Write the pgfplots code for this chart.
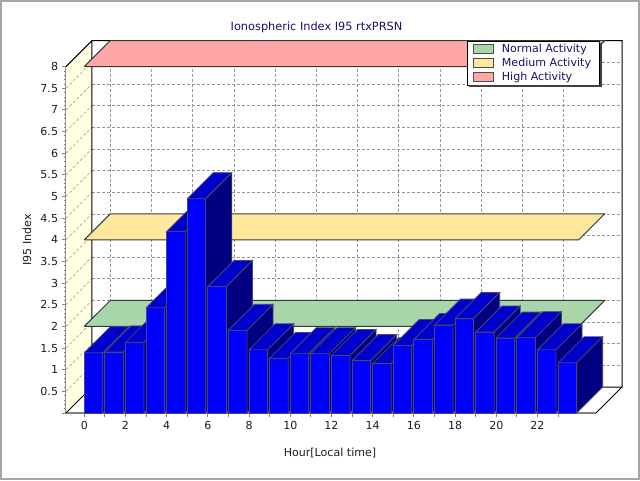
\documentclass[border=0pt]{standalone}
\usepackage{pgfplots}
\pgfplotsset{compat=1.18}
\usepackage{pgfplotstable}
\usepackage{fontspec}
\setmainfont{DejaVu Sans}

\definecolor{barfront}{RGB}{0,0,255}
\definecolor{bartop}{RGB}{0,0,205}
\definecolor{barside}{RGB}{0,0,128}
\definecolor{baredge}{RGB}{70,70,110}
\definecolor{bandgreen}{RGB}{168,214,168}
\definecolor{bandyellow}{RGB}{255,232,158}
\definecolor{bandred}{RGB}{255,166,166}
\definecolor{wallyellow}{RGB}{255,255,226}
\definecolor{gridgray}{RGB}{150,150,150}
\definecolor{axisgray}{RGB}{128,128,128}
\definecolor{titleblue}{RGB}{20,20,100}
\definecolor{bandedge}{RGB}{40,60,60}
\definecolor{textdark}{RGB}{30,30,30}

\pgfplotstableread{
h v
0 1.39
1 1.41
2 1.63
3 2.43
4 4.19
5 4.95
6 2.92
7 1.91
8 1.46
9 1.26
10 1.37
11 1.37
12 1.33
13 1.21
14 1.14
15 1.56
16 1.70
17 2.03
18 2.18
19 1.87
20 1.73
21 1.74
22 1.46
23 1.16
}\bardata

\begin{document}
\begin{tikzpicture}
\fontsize{8.3}{10}\selectfont
\fill[white] (0,0) rectangle (480pt,360pt);
\draw[gray!70, line width=1.5pt] (0.75pt,0.75pt) rectangle (479.25pt,359.25pt);

\begin{axis}[
  at={(49.5pt,50.25pt)}, anchor=south west,
  scale only axis, width=397.5pt, height=259.8pt,
  xmin=-0.888, xmax=24.84, ymin=0, ymax=8,
  clip=false,
  axis on top=false,
  axis lines*=left,
  axis line style={axisgray, line width=1.5pt},
  xtick={0,...,23},
  xticklabels={0,,2,,4,,6,,8,,10,,12,,14,,16,,18,,20,,22,},
  ytick={0,0.5,...,8},
  yticklabels={,0.5,1,1.5,2,2.5,3,3.5,4,4.5,5,5.5,6,6.5,7,7.5,8},
  minor y tick num=4,
  tick align=outside,
  major tick style={axisgray, line width=0.75pt},
  minor tick style={axisgray, line width=0.6pt},
  major tick length=3pt, minor tick length=1.5pt,
  /pgf/number format/assume math mode=true,
  every tick label/.append style={font=\fontsize{8.3}{10}\selectfont, text=textdark},
  legend style={at={(1.0075,1.074)}, anchor=north east, draw=black, fill=white,
    font=\fontsize{8.3}{10}\selectfont, text=titleblue, name=L,
    inner xsep=4.5pt, inner ysep=0pt, row sep=-1pt,
    /tikz/every odd column/.append style={column sep=4pt}},
  legend cell align=left,
  legend image code/.code={\draw[#1, draw=black!70, line width=0.5pt] (0pt,-3.4pt) rectangle (15pt,3.4pt);},
]
% back wall
\fill[white] (axis cs:0.374,0.6) rectangle (axis cs:26.102,8.6);
\pgfplotsinvokeforeach{0.5,1,...,7.5}{
  \draw[gridgray, dash pattern=on 2.25pt off 1.5pt, shift={(19.5pt,19.5pt)}] (axis cs:-0.888,#1) -- (axis cs:24.84,#1);
}
\pgfplotsinvokeforeach{0,2,...,22}{
  \draw[gridgray, dash pattern=on 2.25pt off 1.5pt, shift={(19.5pt,19.5pt)}] (axis cs:#1,0) -- (axis cs:#1,8);
}
% left wall
\fill[wallyellow] (axis cs:-0.888,0) -- (axis cs:0.374,0.6) -- (axis cs:0.374,8.6) -- (axis cs:-0.888,8) -- cycle;
\pgfplotsinvokeforeach{0.5,1,...,7.5}{
  \draw[gridgray, dash pattern=on 2.25pt off 1.5pt] (axis cs:-0.888,#1) -- ++(19.5pt,19.5pt);
}
% wall and floor outlines
\draw[black, line width=0.75pt] (axis cs:-0.888,8) -- (axis cs:0.374,8.6) -- (axis cs:26.102,8.6) -- (axis cs:26.102,0.6) -- (axis cs:0.374,0.6) -- (axis cs:0.374,8.6);
\draw[black, line width=0.75pt] (axis cs:-0.888,0) -- (axis cs:0.374,0.6);
\draw[black, line width=0.75pt] (axis cs:24.84,0) -- (axis cs:26.102,0.6);

% activity bands
\addplot[fill=bandgreen, draw=bandedge, line width=0.75pt] coordinates {(0,2) (24,2) (25.262,2.6) (1.262,2.6) (0,2)};
\addlegendentry{Normal Activity}
\addplot[fill=bandyellow, draw=bandedge, line width=0.75pt] coordinates {(0,4) (24,4) (25.262,4.6) (1.262,4.6) (0,4)};
\addlegendentry{Medium Activity}
\addplot[fill=bandred, draw=bandedge, line width=0.75pt] coordinates {(0,8) (24,8) (25.262,8.6) (1.262,8.6) (0,8)};
\addlegendentry{High Activity}

% 3D bars
\pgfplotsinvokeforeach{0,...,23}{
  \pgfplotstablegetelem{#1}{v}\of\bardata
  \edef\bv{\pgfplotsretval}
  \pgfmathsetmacro\xa{#1}
  \pgfmathsetmacro\xb{#1+0.9}
  \pgfmathsetmacro\xc{#1+0.9+1.262}
  \pgfmathsetmacro\xd{#1+1.262}
  \pgfmathsetmacro\vt{\bv+0.6}
  \addplot[forget plot, fill=barfront, draw=baredge, line width=0.6pt] coordinates {(\xa,0) (\xb,0) (\xb,\bv) (\xa,\bv) (\xa,0)};
  \addplot[forget plot, fill=bartop, draw=baredge, line width=0.6pt] coordinates {(\xa,\bv) (\xb,\bv) (\xc,\vt) (\xd,\vt) (\xa,\bv)};
  \addplot[forget plot, fill=barside, draw=baredge, line width=0.6pt] coordinates {(\xb,0) (\xc,0.6) (\xc,\vt) (\xb,\bv) (\xb,0)};
}
\end{axis}
\draw[black!75, line width=1.5pt] ([xshift=0.95pt,yshift=-1.5pt]L.north east) -- ([xshift=0.95pt,yshift=-0.95pt]L.south east) -- ([xshift=1.5pt,yshift=-0.95pt]L.south west);

\node[text=titleblue, font=\fontsize{8.5}{10}\selectfont] at (237.4pt,339.5pt) {Ionospheric Index I95 rtxPRSN};
\node[text=textdark, rotate=90] at (20.25pt,180pt) {I95 Index};
\node[text=textdark] at (247.5pt,20.25pt) {Hour[Local time]};
\end{tikzpicture}
\end{document}
